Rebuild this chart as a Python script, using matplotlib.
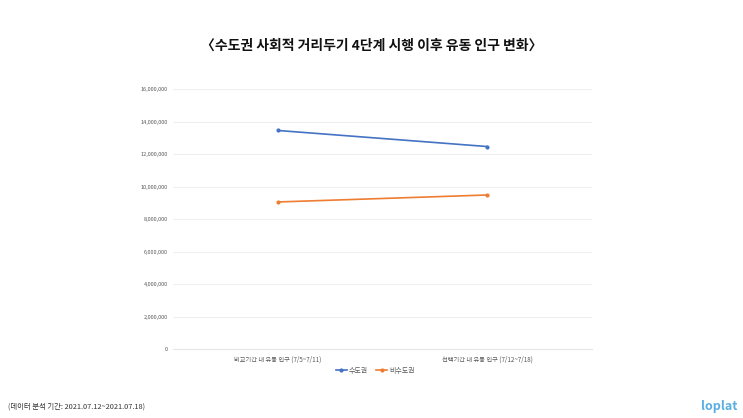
import matplotlib.pyplot as plt
from matplotlib.ticker import FuncFormatter

plt.rcParams['font.family'] = ['Noto Sans CJK KR', 'DejaVu Sans']

categories = ['비교기간 내 유동 인구 (7/5~7/11)', '선택기간 내 유동 인구 (7/12~7/18)']
capital = [13450000, 12460000]
non_capital = [9050000, 9480000]

fig = plt.figure(figsize=(7.43, 4.18), dpi=100)
ax = fig.add_axes([0.233, 0.165, 0.564, 0.622])

x = range(len(categories))
ax.plot(x, capital, color='#4472c4', lw=1.2, marker='o', ms=2, label='수도권')
ax.plot(x, non_capital, color='#ed7d31', lw=1.2, marker='o', ms=2, label='비수도권')

ax.set_xlim(-0.5, 1.5)
ax.set_ylim(0, 16000000)
ax.set_yticks(range(0, 16000001, 2000000))
ax.yaxis.set_major_formatter(FuncFormatter(lambda v, p: f'{int(v):,}'))
ax.set_xticks(list(x))
ax.set_xticklabels(categories)
ax.tick_params(axis='x', length=0, labelsize=4.5, colors='#595959', pad=5)
ax.tick_params(axis='y', length=0, labelsize=4, colors='#595959', pad=4)
ax.grid(axis='y', color='#efefef', lw=0.8)
ax.set_axisbelow(True)
for s in ['top', 'right', 'left']:
    ax.spines[s].set_visible(False)
ax.spines['bottom'].set_color('#e6e6e6')
ax.spines['bottom'].set_linewidth(0.8)

fig.legend(loc='center', bbox_to_anchor=(0.505, 0.113), ncol=2, frameon=False,
           fontsize=5, handlelength=1.6, handletextpad=0.3, columnspacing=1.2,
           labelcolor='#595959')

fig.text(0.5, 0.89, '〈수도권 사회적 거리두기 4단계 시행 이후 유동 인구 변화〉', ha='center', va='center',
         fontsize=10, fontweight='bold', color='#111111')
fig.text(0.011, 0.028, '(데이터 분석 기간: 2021.07.12~2021.07.18)', ha='left', va='center',
         fontsize=5.3, color='#333333')
fig.text(0.992, 0.028, 'loplat', ha='right', va='center', fontsize=9, fontweight='bold',
         color='#5aaee0')

fig.savefig('out.png', dpi=100)
